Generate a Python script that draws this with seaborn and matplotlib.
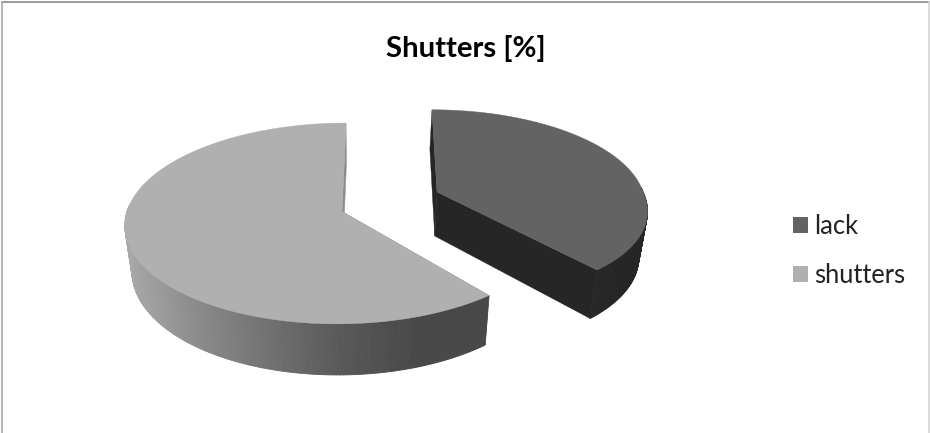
import numpy as np
import matplotlib
matplotlib.use("Agg")
import matplotlib.pyplot as plt
from matplotlib.collections import PolyCollection
from matplotlib.patches import Patch
import seaborn as sns

title = "Shutters [%]"
categories = ["lack", "shutters"]
values = [39, 61]
top_colors = ["#636363", "#b0b0b0"]
wall_ramps = [["#262626", "#262626"],
              ["#a8a8a8", "#8a8a8a", "#707070", "#585858", "#484848", "#484848"]]
cut_colors = ["#262626", "#8c8c8c"]

sns.set_theme(style="white")
plt.rcParams["font.family"] = ["Lato", "DejaVu Sans"]

# pseudo-3D projection of each exploded slice
PERSP = 0.119
VANISH_X, TAPER = 361.0, 0.03
slices = [
    dict(ax=437.0, ay=192.0, rx=206.0, ry=92.0, far=47.0, near=155.0, depth=44.0),
    dict(ax=342.0, ay=211.5, rx=215.0, ry=99.0, far=-38.0, near=-38.0, depth=45.0),
]


def top_pt(t, s, r=1.0):
    u, v = r * np.sin(t), r * np.cos(t)
    w = 1 + PERSP * v
    lean = np.where(v < 0, s["near"], s["far"])
    return s["ax"] + s["rx"] * u / w + lean * (1 / w - 1), s["ay"] - s["ry"] * v / w


def bot_pt(t, s, r=1.0):
    x, y = top_pt(t, s, r)
    w = 1 + PERSP * r * np.cos(t)
    return x + (VANISH_X - x) * TAPER, y + s["depth"] / w


fig = plt.figure(figsize=(9.30, 4.33), dpi=100)
ax = fig.add_axes([0, 0, 1, 1])
ax.set_xlim(0, 930)
ax.set_ylim(433, 0)
ax.axis("off")

edges = np.cumsum([0] + values) / sum(values) * 2 * np.pi

for i in [1, 0]:
    s = slices[i]
    base = 2 + 2 * i
    t = np.linspace(edges[i], edges[i + 1], 260)
    xt, yt = top_pt(t, s)
    xb, yb = bot_pt(t, s)
    ramp = sns.blend_palette(wall_ramps[i], 256)
    visible = np.cos(t) < 0.3
    x_lo, x_hi = xt[visible].min(), xt[visible].max()
    quads, cols = [], []
    for j in range(len(t) - 1):
        if np.cos(t[j]) > 0.05:
            continue
        quads.append([(xt[j], yt[j]), (xt[j + 1], yt[j + 1]), (xb[j + 1], yb[j + 1]), (xb[j], yb[j])])
        f = np.clip((xt[j] - x_lo) / (x_hi - x_lo), 0, 1)
        cols.append(ramp[int(f * 255)])
    zero = np.array([0.0])
    for edge in (edges[i], edges[i + 1]):
        e = np.array([edge])
        x0, y0 = top_pt(e, s)
        x1, y1 = bot_pt(e, s)
        xa, ya = top_pt(zero, s, 0.0)
        xc, yc = bot_pt(zero, s, 0.0)
        ax.fill([xa[0], x0[0], x1[0], xc[0]], [ya[0], y0[0], y1[0], yc[0]],
                color=cut_colors[i], lw=0.3, zorder=base)
    ax.add_collection(PolyCollection(quads, facecolors=cols, edgecolors=cols, linewidths=0.6, zorder=base + 0.5))
    ax.fill(np.r_[s["ax"], xt], np.r_[s["ay"], yt], color=top_colors[i], lw=0.3, zorder=base + 1)

ax.plot([1.5, 929], [1.5, 1.5], color="#8a8a8a", lw=1.2, zorder=8)
ax.plot([1.5, 1.5], [1.5, 433], color="#a8a8a8", lw=1.2, zorder=8)
ax.plot([929, 929], [1.5, 433], color="#d4d4d4", lw=1.2, zorder=8)

ax.text(466, 48, title, ha="center", va="center", fontsize=21.2, fontweight="bold", color="black")

handles = [Patch(facecolor=c, edgecolor="none") for c in top_colors]
ax.legend(handles, categories, loc="center left", bbox_to_anchor=(793 / 930, 1 - 251 / 433),
          frameon=False, fontsize=18.4, labelcolor="#222222", handlelength=0.59, handleheight=0.59,
          handletextpad=0.23, labelspacing=0.95, borderpad=0, borderaxespad=0)

fig.savefig("out.png", dpi=100)
